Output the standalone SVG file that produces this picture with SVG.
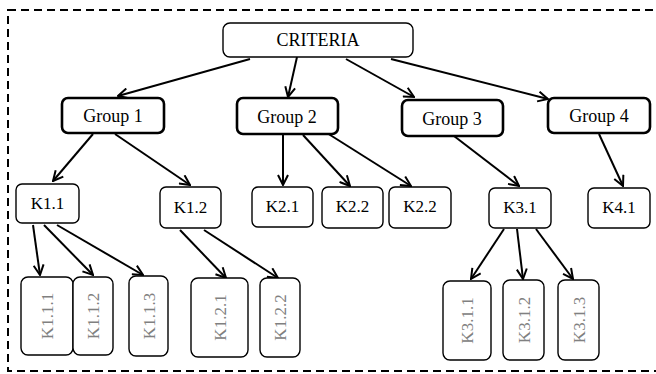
<svg xmlns="http://www.w3.org/2000/svg" width="656" height="374" viewBox="0 0 656 374">
<style>
.n rect{fill:#fff;stroke:#000;stroke-width:1.4}
.g rect{fill:#fff;stroke:#000;stroke-width:2.6}
text{text-anchor:middle;fill:#000}
.t1{font-size:18px}
.t2{font-size:17px}
.t3{font-size:17px;fill:#808080}
.c line{stroke:#000;stroke-width:2;marker-end:url(#ah)}
</style>
<defs>
<marker id="ah" viewBox="0 0 12 12" refX="11" refY="6" markerWidth="12" markerHeight="12" markerUnits="userSpaceOnUse" orient="auto">
<path d="M1,1 L11,6 L1,11" fill="none" stroke="#000" stroke-width="2"/>
</marker>
</defs>
<rect x="8" y="10" width="660" height="361" fill="none" stroke="#000" stroke-width="2" stroke-dasharray="8,5"/>
<g class="c" id="connectors">
<line x1="250" y1="59" x2="118" y2="96"/>
<line x1="297" y1="57" x2="288" y2="97"/>
<line x1="346" y1="59" x2="414" y2="97"/>
<line x1="391" y1="59" x2="548" y2="99"/>
<line x1="93" y1="134" x2="53" y2="181"/>
<line x1="115" y1="134" x2="190" y2="185"/>
<line x1="283" y1="135" x2="283" y2="185"/>
<line x1="303" y1="135" x2="350" y2="186"/>
<line x1="327" y1="133" x2="411" y2="186"/>
<line x1="454" y1="136" x2="519" y2="186"/>
<line x1="599" y1="134" x2="623" y2="186"/>
<line x1="33" y1="225" x2="40" y2="275"/>
<line x1="44" y1="225" x2="93" y2="275"/>
<line x1="57" y1="225" x2="143" y2="275"/>
<line x1="180" y1="230" x2="226" y2="278"/>
<line x1="204" y1="230" x2="278" y2="278"/>
<line x1="504" y1="229" x2="471" y2="279"/>
<line x1="517" y1="229" x2="523" y2="279"/>
<line x1="536" y1="229" x2="573" y2="279"/>
</g>
<g font-family="Liberation Serif, Times New Roman, serif">
<g id="criteria" class="n"><rect x="223" y="23" width="190" height="34" rx="7"/><text class="t1" x="318" y="46">CRITERIA</text></g>
<g id="group1" class="g"><rect x="62" y="98" width="102" height="35" rx="6"/><text class="t1" x="113" y="122">Group 1</text></g>
<g id="group2" class="g"><rect x="237" y="98" width="101" height="36" rx="6"/><text class="t1" x="287" y="123">Group 2</text></g>
<g id="group3" class="g"><rect x="402" y="100" width="101" height="36" rx="6"/><text class="t1" x="452" y="125">Group 3</text></g>
<g id="group4" class="g"><rect x="548" y="98" width="102" height="35" rx="6"/><text class="t1" x="599" y="122">Group 4</text></g>
<g id="k11" class="n"><rect x="16" y="184" width="63" height="39" rx="6"/><text class="t2" x="47.5" y="209">K1.1</text></g>
<g id="k12" class="n"><rect x="160" y="187" width="61" height="41" rx="6"/><text class="t2" x="190.5" y="213">K1.2</text></g>
<g id="k21" class="n"><rect x="252" y="187" width="61" height="40" rx="6"/><text class="t2" x="282.5" y="212">K2.1</text></g>
<g id="k22a" class="n"><rect x="322" y="187" width="61" height="41" rx="6"/><text class="t2" x="352.5" y="212">K2.2</text></g>
<g id="k22b" class="n"><rect x="389" y="187" width="62" height="41" rx="6"/><text class="t2" x="420" y="212">K2.2</text></g>
<g id="k31" class="n"><rect x="489" y="188" width="62" height="40" rx="6"/><text class="t2" x="520" y="213">K3.1</text></g>
<g id="k41" class="n"><rect x="588" y="188" width="62" height="40" rx="6"/><text class="t2" x="619" y="213">K4.1</text></g>
<g id="k111" class="n"><rect x="21" y="277" width="52" height="78" rx="7"/><text class="t3" transform="translate(47,316) rotate(-90)" y="6">K1.1.1</text></g>
<g id="k112" class="n"><rect x="73" y="277" width="40" height="78" rx="7"/><text class="t3" transform="translate(93,316) rotate(-90)" y="6">K1.1.2</text></g>
<g id="k113" class="n"><rect x="129" y="276" width="39" height="80" rx="7"/><text class="t3" transform="translate(148.5,316) rotate(-90)" y="6">K1.1.3</text></g>
<g id="k121" class="n"><rect x="191" y="278" width="57" height="79" rx="7"/><text class="t3" transform="translate(219.5,317.5) rotate(-90)" y="6">K1.2.1</text></g>
<g id="k122" class="n"><rect x="260" y="278" width="40" height="79" rx="7"/><text class="t3" transform="translate(280,317.5) rotate(-90)" y="6">K1.2.2</text></g>
<g id="k311" class="n"><rect x="443" y="281" width="48" height="79" rx="7"/><text class="t3" transform="translate(467,320.5) rotate(-90)" y="6">K3.1.1</text></g>
<g id="k312" class="n"><rect x="503" y="280" width="41" height="80" rx="7"/><text class="t3" transform="translate(523.5,320) rotate(-90)" y="6">K3.1.2</text></g>
<g id="k313" class="n"><rect x="558" y="280" width="41" height="80" rx="7"/><text class="t3" transform="translate(578.5,320) rotate(-90)" y="6">K3.1.3</text></g>
</g>
</svg>
